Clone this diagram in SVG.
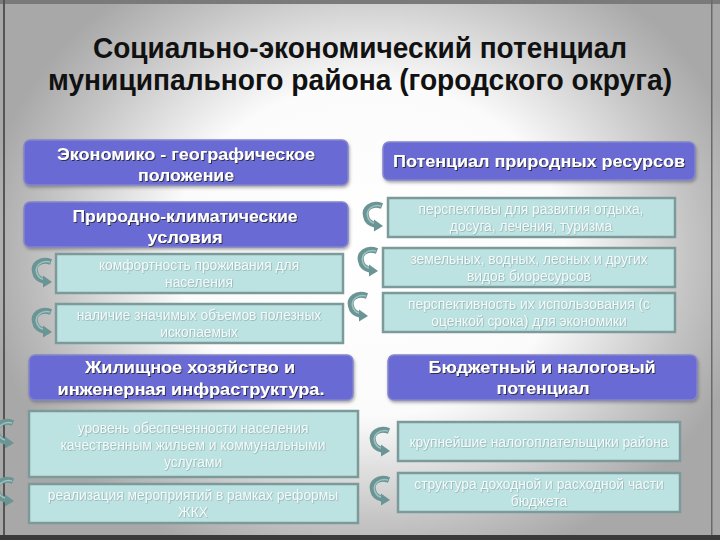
<svg xmlns="http://www.w3.org/2000/svg" xmlns:xlink="http://www.w3.org/1999/xlink" width="720" height="540" viewBox="0 0 720 540">
<defs>
  <radialGradient id="bg" cx="370" cy="250" r="390" gradientUnits="userSpaceOnUse" gradientTransform="translate(370 250) scale(1 0.85) translate(-370 -250)">
    <stop offset="0" stop-color="#ffffff"/>
    <stop offset="0.5" stop-color="#fbfbfb"/>
    <stop offset="0.82" stop-color="#c4c4c4"/>
    <stop offset="1" stop-color="#a8a8a8"/>
  </radialGradient>
  <filter id="sh" x="-10%" y="-10%" width="120%" height="140%">
    <feDropShadow dx="1" dy="2" stdDeviation="1.5" flood-color="#555" flood-opacity="0.5"/>
  </filter>
  <filter id="tsh" x="-5%" y="-20%" width="110%" height="150%">
    <feDropShadow dx="1" dy="1" stdDeviation="0.6" flood-color="#222" flood-opacity="0.8"/>
  </filter>
  <filter id="lsh" x="-5%" y="-20%" width="110%" height="150%">
    <feDropShadow dx="0.6" dy="0.6" stdDeviation="0.4" flood-color="#6a8a8a" flood-opacity="0.7"/>
  </filter>
  <g id="carrow">
    <path d="M19,5 C8,1 1,8 3,15 C4,21 8,23 13,24" fill="none" stroke="#6b9494" stroke-width="6"/>
    <path d="M18,5 C9,3 3,9 4.5,15 C5.5,20 9,22 13,22.5" fill="none" stroke="#9fc2c2" stroke-width="1.5"/>
    <polygon points="11,18.5 20,25 11,30.5" fill="#6b9494"/>
  </g>
  <style>
    .title{font-family:"Liberation Sans",Arial,sans-serif;font-weight:bold;font-size:29px;fill:#111;text-anchor:middle}
    .bb{fill:#6b6bd4;stroke:#8585cc;stroke-width:1.5}
    .bt{font-family:"Liberation Sans",Arial,sans-serif;font-weight:bold;font-size:17px;fill:#ffffff;text-anchor:middle}
    .cb{fill:#bde2e2;stroke:#7c9a9a;stroke-width:2.5}
    .ct{font-family:"Liberation Sans",Arial,sans-serif;font-size:13.8px;fill:#f4fbfb;text-anchor:middle}
  </style>
</defs>

<g id="background">
  <rect x="0" y="0" width="720" height="540" fill="#a8a8a8"/>
  <rect x="0" y="0" width="720" height="540" fill="url(#bg)"/>
  <rect x="0" y="0" width="720" height="4" fill="#7a7a7a"/>
  <rect x="3" y="0" width="2" height="540" fill="#555"/>
  <rect x="711" y="0" width="1.5" height="540" fill="#6a6a6a"/>
  <rect x="0" y="535" width="720" height="5" fill="#3a3a3a"/>
</g>

<g id="title">
  <text class="title" x="360" y="58" textLength="534" lengthAdjust="spacingAndGlyphs">Социально-экономический потенциал</text>
  <text class="title" x="360" y="90" textLength="624" lengthAdjust="spacingAndGlyphs">муниципального района (городского округа)</text>
</g>

<g id="connectors">
  <use xlink:href="#carrow" x="32" y="257"/>
  <use xlink:href="#carrow" x="32" y="307"/>
  <use xlink:href="#carrow" x="363" y="201"/>
  <use xlink:href="#carrow" x="358" y="246"/>
  <use xlink:href="#carrow" x="348" y="291"/>
  <use xlink:href="#carrow" x="-6" y="418"/>
  <use xlink:href="#carrow" x="-6" y="476"/>
  <use xlink:href="#carrow" x="370" y="426"/>
  <use xlink:href="#carrow" x="370" y="475"/>
</g>

<g id="n1" filter="url(#sh)">
  <rect class="bb" x="24" y="140" width="324" height="45" rx="6"/>
  <g filter="url(#tsh)">
    <text class="bt" x="186" y="160" textLength="258" lengthAdjust="spacingAndGlyphs">Экономико - географическое</text>
    <text class="bt" x="186" y="181" textLength="96" lengthAdjust="spacingAndGlyphs">положение</text>
  </g>
</g>
<g id="n2" filter="url(#sh)">
  <rect class="bb" x="24" y="202" width="324" height="45" rx="6"/>
  <g filter="url(#tsh)">
    <text class="bt" x="185" y="222" textLength="225" lengthAdjust="spacingAndGlyphs">Природно-климатические</text>
    <text class="bt" x="185" y="243" textLength="75" lengthAdjust="spacingAndGlyphs">условия</text>
  </g>
</g>
<g id="n3">
  <rect class="cb" x="56" y="254" width="287" height="39"/>
  <g filter="url(#lsh)">
    <text class="ct" x="199" y="270">комфортность проживания для</text>
    <text class="ct" x="199" y="287">населения</text>
  </g>
</g>
<g id="n4">
  <rect class="cb" x="56" y="304" width="287" height="39"/>
  <g filter="url(#lsh)">
    <text class="ct" x="199" y="320">наличие значимых объемов полезных</text>
    <text class="ct" x="199" y="337">ископаемых</text>
  </g>
</g>

<g id="n5" filter="url(#sh)">
  <rect class="bb" x="383" y="142" width="312" height="38" rx="6"/>
  <g filter="url(#tsh)">
    <text class="bt" x="539" y="167" textLength="292" lengthAdjust="spacingAndGlyphs">Потенциал природных ресурсов</text>
  </g>
</g>
<g id="n6">
  <rect class="cb" x="388" y="198" width="287" height="39"/>
  <g filter="url(#lsh)">
    <text class="ct" x="531" y="214">перспективы для развития отдыха,</text>
    <text class="ct" x="531" y="231">досуга, лечения, туризма</text>
  </g>
</g>
<g id="n7">
  <rect class="cb" x="383" y="248" width="292" height="39"/>
  <g filter="url(#lsh)">
    <text class="ct" x="529" y="264">земельных, водных, лесных и других</text>
    <text class="ct" x="529" y="281">видов биоресурсов</text>
  </g>
</g>
<g id="n8">
  <rect class="cb" x="383" y="293" width="292" height="39"/>
  <g filter="url(#lsh)">
    <text class="ct" x="529" y="309">перспективность их использования (с</text>
    <text class="ct" x="529" y="326">оценкой срока) для экономики</text>
  </g>
</g>

<g id="n9" filter="url(#sh)">
  <rect class="bb" x="29" y="355" width="324" height="45" rx="6"/>
  <g filter="url(#tsh)">
    <text class="bt" x="190" y="373" textLength="210" lengthAdjust="spacingAndGlyphs">Жилищное хозяйство и</text>
    <text class="bt" x="191" y="395" textLength="267" lengthAdjust="spacingAndGlyphs">инженерная инфраструктура.</text>
  </g>
</g>
<g id="n10">
  <rect class="cb" x="29" y="411" width="329" height="66"/>
  <g filter="url(#lsh)">
    <text class="ct" x="193" y="433">уровень обеспеченности населения</text>
    <text class="ct" x="193" y="450">качественным жильем и коммунальными</text>
    <text class="ct" x="193" y="467">услугами</text>
  </g>
</g>
<g id="n11">
  <rect class="cb" x="29" y="484" width="329" height="39"/>
  <g filter="url(#lsh)">
    <text class="ct" x="193" y="500">реализация мероприятий в рамках реформы</text>
    <text class="ct" x="193" y="517">ЖКХ</text>
  </g>
</g>

<g id="n12" filter="url(#sh)">
  <rect class="bb" x="388" y="355" width="309" height="45" rx="6"/>
  <g filter="url(#tsh)">
    <text class="bt" x="542" y="373" textLength="227" lengthAdjust="spacingAndGlyphs">Бюджетный и налоговый</text>
    <text class="bt" x="543" y="394" textLength="93" lengthAdjust="spacingAndGlyphs">потенциал</text>
  </g>
</g>
<g id="n13">
  <rect class="cb" x="398" y="422" width="282" height="39"/>
  <g filter="url(#lsh)">
    <text class="ct" x="539" y="447">крупнейшие налогоплательщики района</text>
  </g>
</g>
<g id="n14">
  <rect class="cb" x="398" y="473" width="282" height="39"/>
  <g filter="url(#lsh)">
    <text class="ct" x="539" y="489">структура доходной и расходной части</text>
    <text class="ct" x="539" y="506">бюджета</text>
  </g>
</g>
</svg>
